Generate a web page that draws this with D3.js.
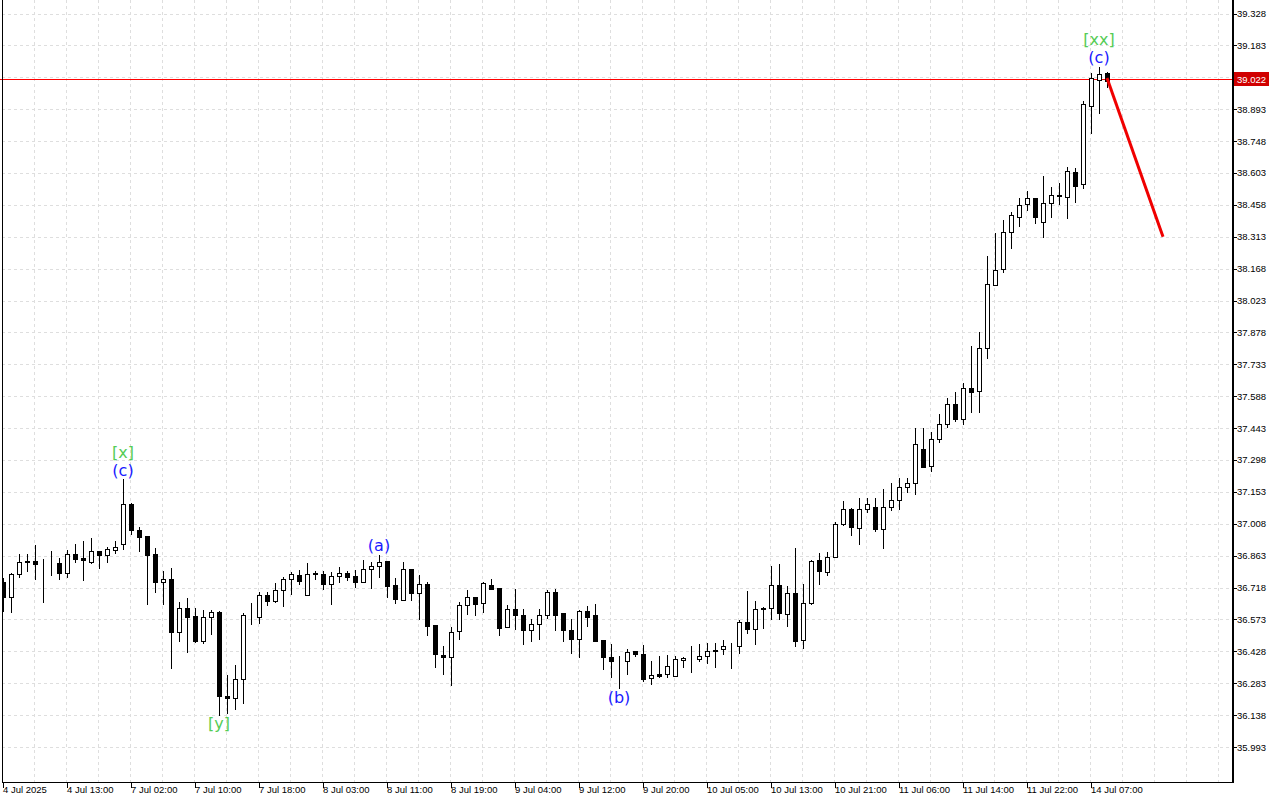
<!DOCTYPE html>
<html>
<head>
<meta charset="utf-8">
<script src="https://cdn.jsdelivr.net/npm/d3@7/dist/d3.min.js"></script>
<style>
  body { margin: 0; background: #fff; }
  svg { display: block; font-family: "Liberation Sans", Arial, sans-serif; }
</style>
</head>
<body>
<svg id="chart"></svg>
<script>
// hourly bars, 4 Jul 2025 .. 14 Jul 2025
var opens = [36.741,36.677,36.779,36.839,36.839,36.830,36.828,36.829,36.783,36.870,36.852,36.836,36.885,36.865,36.888,36.915,37.097,36.980,36.953,36.871,
  36.743,36.758,36.518,36.626,36.589,36.477,36.584,36.606,36.226,36.215,36.302,36.594,36.584,36.683,36.658,36.706,36.756,36.776,36.684,36.781,
  36.780,36.734,36.770,36.784,36.770,36.745,36.802,36.815,36.839,36.728,36.661,36.802,36.693,36.735,36.547,36.411,36.402,36.520,36.638,36.674,
  36.647,36.730,36.715,36.538,36.620,36.593,36.527,36.552,36.593,36.697,36.603,36.524,36.486,36.611,36.594,36.479,36.402,36.386,36.385,36.429,
  36.415,36.306,36.324,36.324,36.318,36.389,36.397,36.394,36.406,36.434,36.439,36.452,36.451,36.561,36.529,36.626,36.623,36.729,36.597,36.693,
  36.480,36.649,36.844,36.788,36.856,37.006,37.074,36.988,37.074,37.084,36.983,37.084,37.115,37.174,37.193,37.347,37.271,37.393,37.461,37.552,
  37.484,37.624,37.612,37.806,38.093,38.165,38.334,38.402,38.461,38.488,38.379,38.465,38.503,38.493,38.608,38.552,38.909,39.026,39.059];
var highs = [36.762,36.786,36.870,36.870,36.911,36.850,36.885,36.854,36.889,36.917,36.929,36.943,36.886,36.904,36.930,37.211,37.102,36.991,36.954,36.897,
  36.794,36.806,36.652,36.670,36.624,36.617,36.617,36.612,36.321,36.367,36.602,36.647,36.697,36.697,36.738,36.764,36.788,36.799,36.829,36.795,
  36.791,36.788,36.811,36.794,36.799,36.844,36.832,36.867,36.840,36.761,36.834,36.803,36.776,36.743,36.548,36.453,36.538,36.652,36.708,36.675,
  36.745,36.756,36.716,36.639,36.711,36.620,36.574,36.620,36.708,36.711,36.604,36.574,36.615,36.635,36.645,36.480,36.462,36.408,36.438,36.430,
  36.458,36.383,36.409,36.410,36.409,36.404,36.454,36.461,36.465,36.465,36.480,36.465,36.571,36.703,36.658,36.629,36.817,36.826,36.724,36.897,
  36.735,36.844,36.874,36.879,37.015,37.112,37.079,37.124,37.124,37.124,37.165,37.194,37.215,37.215,37.443,37.443,37.427,37.506,37.579,37.606,
  37.647,37.817,37.879,38.226,38.329,38.389,38.426,38.488,38.523,38.489,38.591,38.541,38.556,38.632,38.627,38.932,39.059,39.086,39.064];
var lows = [36.612,36.609,36.764,36.794,36.759,36.650,36.777,36.756,36.768,36.835,36.752,36.829,36.809,36.836,36.873,36.893,36.961,36.886,36.641,36.700,
  36.645,36.350,36.477,36.427,36.472,36.464,36.506,36.139,36.147,36.168,36.195,36.552,36.556,36.637,36.650,36.632,36.688,36.735,36.683,36.756,
  36.711,36.641,36.741,36.753,36.720,36.744,36.718,36.768,36.677,36.646,36.660,36.662,36.574,36.500,36.359,36.324,36.276,36.486,36.597,36.591,
  36.609,36.710,36.500,36.537,36.530,36.460,36.473,36.486,36.579,36.526,36.473,36.420,36.400,36.545,36.475,36.347,36.311,36.261,36.324,36.408,
  36.294,36.279,36.309,36.309,36.317,36.359,36.336,36.382,36.377,36.359,36.417,36.352,36.420,36.511,36.461,36.532,36.577,36.574,36.541,36.453,
  36.444,36.643,36.734,36.773,36.855,37.002,36.959,36.918,37.061,36.977,36.897,37.070,37.074,37.152,37.143,37.265,37.250,37.382,37.447,37.476,
  37.461,37.514,37.514,37.761,38.092,38.152,38.264,38.362,38.435,38.374,38.314,38.404,38.462,38.397,38.473,38.534,38.786,38.874,38.993];
var closes = [36.677,36.779,36.834,36.832,36.824,36.828,36.830,36.783,36.870,36.847,36.843,36.885,36.865,36.894,36.902,37.097,36.979,36.950,36.868,36.745,
  36.756,36.514,36.624,36.586,36.473,36.584,36.606,36.223,36.214,36.302,36.594,36.591,36.685,36.655,36.708,36.756,36.780,36.750,36.780,36.782,
  36.736,36.770,36.785,36.768,36.745,36.802,36.815,36.836,36.727,36.664,36.802,36.693,36.735,36.541,36.415,36.400,36.515,36.638,36.674,36.645,
  36.738,36.711,36.536,36.620,36.591,36.526,36.552,36.593,36.697,36.593,36.523,36.486,36.611,36.586,36.476,36.400,36.384,36.385,36.426,36.414,
  36.304,36.319,36.317,36.361,36.393,36.397,36.398,36.406,36.429,36.429,36.454,36.451,36.561,36.528,36.620,36.620,36.729,36.602,36.693,36.476,
  36.647,36.838,36.791,36.856,37.006,37.074,36.991,37.074,37.097,36.982,37.084,37.115,37.174,37.193,37.370,37.268,37.393,37.461,37.552,37.484,
  37.624,37.609,37.806,38.097,38.162,38.334,38.412,38.458,38.488,38.402,38.465,38.503,38.497,38.611,38.545,38.915,39.034,39.053,39.022];

var timeLabels = ["4 Jul 2025","4 Jul 13:00","7 Jul 02:00","7 Jul 10:00","7 Jul 18:00","8 Jul 03:00","8 Jul 11:00","8 Jul 19:00","9 Jul 04:00",
  "9 Jul 12:00","9 Jul 20:00","10 Jul 05:00","10 Jul 13:00","10 Jul 21:00","11 Jul 06:00","11 Jul 14:00","11 Jul 22:00","14 Jul 07:00"];
var priceTicks = [39.328,39.183,39.038,38.893,38.748,38.603,38.458,38.313,38.168,38.023,37.878,37.733,37.588,37.443,37.298,37.153,
  37.008,36.863,36.718,36.573,36.428,36.283,36.138,35.993];

var currentPrice = 39.022;
// forecast arrow: from bar index / price to bar index / price
var forecastIdx = [138, 145];
var forecastPrice = [39.035, 38.313];

// wave marks
var waveText = ["[x]", "(c)", "[y]", "(a)", "(b)", "[xx]", "(c)"];
var waveBar = [15, 15, 27, 47, 77, 137, 137];
var waveSide = ["high", "high", "low", "high", "low", "high", "high"];
var waveLevel = [1, 0, 0, 0, 0, 1, 0];
var waveKind = ["major", "minor", "major", "minor", "minor", "major", "minor"];

var bars = opens.map(function (o, i) {
    return { i: i, open: o, high: highs[i], low: lows[i], close: closes[i] };
});

var WIDTH = 1280, HEIGHT = 800;
var plot = { left: 2, right: 1232, top: 0, bottom: 782 };

var svg = d3.select("#chart")
    .attr("width", WIDTH)
    .attr("height", HEIGHT);

var x = d3.scaleLinear().domain([0, 1]).range([3, 11]);   // 8px per bar
var y = d3.scaleLinear().domain([35.993, 39.328]).range([747, 13.5]);
var px = function (v) { return Math.round(v) + 0.5; };

svg.append("defs").append("clipPath").attr("id", "plot-clip")
    .append("rect")
    .attr("x", plot.left).attr("y", plot.top)
    .attr("width", plot.right - plot.left).attr("height", plot.bottom - plot.top);

svg.append("rect").attr("width", WIDTH).attr("height", HEIGHT).attr("fill", "#fff");

var grid = svg.append("g")
    .attr("clip-path", "url(#plot-clip)")
    .attr("stroke", "#dedede")
    .attr("stroke-dasharray", "3,3")
    .attr("shape-rendering", "crispEdges");

grid.selectAll(".hgrid")
    .data(priceTicks)
    .enter().append("line")
    .attr("x1", plot.left).attr("x2", plot.right)
    .attr("y1", function (d) { return px(y(d)); })
    .attr("y2", function (d) { return px(y(d)); });

grid.selectAll(".vgrid")
    .data(d3.range(0, 156, 4))
    .enter().append("line")
    .attr("x1", function (d) { return px(x(d) - 1); })
    .attr("x2", function (d) { return px(x(d) - 1); })
    .attr("y1", plot.top).attr("y2", plot.bottom);

// current price line
var bidY = Math.round(y(currentPrice)) - 1.5;
svg.append("line")
    .attr("x1", 0).attr("x2", plot.right)
    .attr("y1", bidY).attr("y2", bidY)
    .attr("stroke", "#ff0000")
    .attr("stroke-width", 1)
    .attr("shape-rendering", "crispEdges");

var candles = svg.append("g")
    .attr("clip-path", "url(#plot-clip)")
    .attr("shape-rendering", "crispEdges");

var candle = candles.selectAll(".candle")
    .data(bars)
    .enter().append("g")
    .attr("class", "candle");

candle.append("line")
    .attr("x1", function (d) { return px(x(d.i)); })
    .attr("x2", function (d) { return px(x(d.i)); })
    .attr("y1", function (d) { return Math.round(y(d.high)); })
    .attr("y2", function (d) { return Math.round(y(d.low)) + 1; })
    .attr("stroke", "#000");

candle.append("rect")
    .attr("x", function (d) { return Math.round(x(d.i)) - 2 + 0.5; })
    .attr("width", 4)
    .attr("y", function (d) { return px(y(Math.max(d.open, d.close))); })
    .attr("height", function (d) {
        return Math.max(0, Math.round(y(Math.min(d.open, d.close))) - Math.round(y(Math.max(d.open, d.close))));
    })
    .attr("fill", function (d) { return d.close < d.open ? "#000" : "#fff"; })
    .attr("stroke", "#000");

// forecast arrow
svg.append("line")
    .attr("x1", x(forecastIdx[0])).attr("y1", y(forecastPrice[0]))
    .attr("x2", x(forecastIdx[1])).attr("y2", y(forecastPrice[1]))
    .attr("stroke", "#f00000")
    .attr("stroke-width", 3);

// wave labels
svg.append("g").selectAll("text")
    .data(waveText)
    .enter().append("text")
    .attr("x", function (d, i) { return x(waveBar[i]); })
    .attr("y", function (d, i) {
        var b = bars[waveBar[i]];
        return waveSide[i] == "high"
            ? y(b.high) - 9 - waveLevel[i] * 18
            : y(b.low) + 9 + waveLevel[i] * 18;
    })
    .attr("text-anchor", "middle")
    .attr("dominant-baseline", "central")
    .style("font-family", "'DejaVu Sans', sans-serif")
    .style("font-size", "16px")
    .attr("fill", function (d, i) { return waveKind[i] == "major" ? "#55cc55" : "#1a1aff"; })
    .text(function (d) { return d; });

// frame
svg.append("g")
    .attr("shape-rendering", "crispEdges")
    .call(function (g) {
        g.append("line").attr("x1", plot.left + 0.5).attr("x2", plot.left + 0.5)
            .attr("y1", plot.top).attr("y2", plot.bottom);
        g.append("line").attr("x1", plot.left).attr("x2", plot.right + 1)
            .attr("y1", plot.bottom + 0.5).attr("y2", plot.bottom + 0.5);
        g.append("line").attr("x1", plot.right + 1).attr("x2", plot.right + 1)
            .attr("y1", plot.top).attr("y2", plot.bottom + 1)
            .attr("stroke-width", 2);
    })
    .selectAll("line").attr("stroke", "#000");

// price axis
var yAxis = svg.append("g");
yAxis.selectAll("line")
    .data(priceTicks)
    .enter().append("line")
    .attr("x1", plot.right + 2).attr("x2", plot.right + 5)
    .attr("y1", function (d) { return px(y(d)); })
    .attr("y2", function (d) { return px(y(d)); })
    .attr("stroke", "#000")
    .attr("shape-rendering", "crispEdges");
yAxis.selectAll("text")
    .data(priceTicks)
    .enter().append("text")
    .attr("x", plot.right + 5)
    .attr("y", function (d) { return y(d); })
    .attr("dominant-baseline", "central")
    .style("font-size", "9.5px")
    .attr("fill", "#000")
    .text(function (d) { return d.toFixed(3); });

// current price tag (covers the 39.038 label, as in the terminal)
var tag = svg.append("g").attr("transform", "translate(" + (plot.right + 2) + "," + (bidY - 0.5) + ")");
tag.append("rect")
    .attr("x", 0).attr("y", -7).attr("width", 35).attr("height", 14)
    .attr("fill", "#d00000");
tag.append("text")
    .attr("x", 3).attr("y", 0.5)
    .attr("dominant-baseline", "central")
    .style("font-size", "9.5px")
    .attr("fill", "#fff")
    .text(currentPrice.toFixed(3));

// time axis
var xAxis = svg.append("g");
xAxis.selectAll("line")
    .data(timeLabels)
    .enter().append("line")
    .attr("x1", function (d, i) { return px(x(i * 8)); })
    .attr("x2", function (d, i) { return px(x(i * 8)); })
    .attr("y1", plot.bottom).attr("y2", plot.bottom + 6)
    .attr("stroke", "#000")
    .attr("shape-rendering", "crispEdges");
xAxis.selectAll("text")
    .data(timeLabels)
    .enter().append("text")
    .attr("x", function (d, i) { return x(i * 8); })
    .attr("y", plot.bottom + 11)
    .style("font-size", "9.5px")
    .attr("fill", "#000")
    .text(function (d) { return d; });
</script>
</body>
</html>
